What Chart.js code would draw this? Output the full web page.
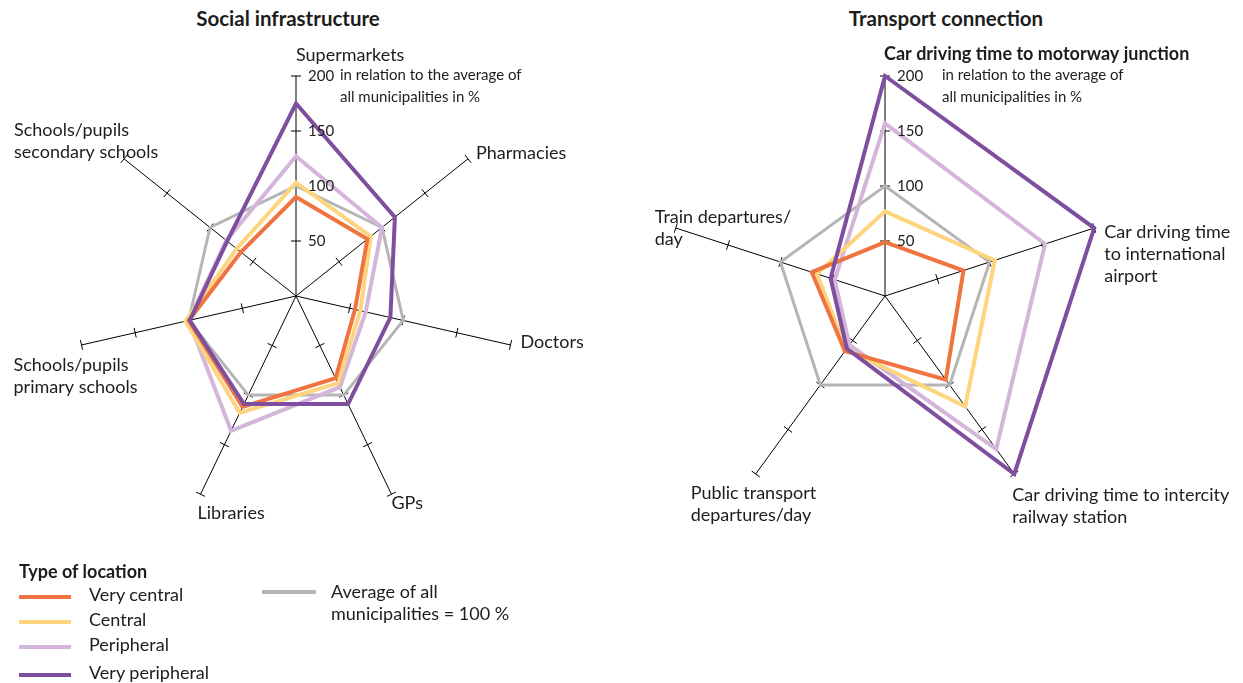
<!DOCTYPE html>
<html>
<head>
<meta charset="utf-8">
<script src="https://cdn.jsdelivr.net/npm/chart.js@4.4.1/dist/chart.umd.min.js"></script>
<style>
  body { margin: 0; background: #fff; width: 1243px; height: 683px; position: relative; overflow: hidden;
         font-family: Lato, "Open Sans", sans-serif; color: #1d1d1b; }
  canvas { position: absolute; top: 0; }
  #left { left: 0; }
  #right { left: 620px; }
  .title { position: absolute; top: 6px; font-weight: bold; font-size: 20.5px; text-align: center; }
  .legend { position: absolute; font-size: 18px; line-height: 1; }
  .swatch { position: absolute; height: 4px; }
</style>
</head>
<body>
<div class="title" style="left:138px;width:300px;">Social infrastructure</div>
<div class="title" style="left:796px;width:300px;">Transport connection</div>
<canvas id="left" width="620" height="683"></canvas>
<canvas id="right" width="623" height="683"></canvas>
<div id="legend"></div>
<script>
// categories
const socialLabels = [['Supermarkets'], ['Pharmacies'], ['Doctors'], ['GPs'], ['Libraries'],
  ['Schools/pupils', 'primary schools'], ['Schools/pupils', 'secondary schools']];
const transportLabels = [['Car driving time to motorway junction'], ['Car driving time', 'to international', 'airport'],
  ['Car driving time to intercity', 'railway station'], ['Public transport', 'departures/day'], ['Train departures/', 'day']];

const tickValues = [50, 100, 150, 200];
const seriesNames = ['Very central', 'Central', 'Peripheral', 'Very peripheral'];
const averageName = ['Average of all', 'municipalities = 100 %'];

// values in % of average
const socialVeryCentral = [90, 83, 55, 83, 112, 100, 64];
const socialCentral = [103, 87, 60, 88, 118, 103, 69];
const socialPeripheral = [127, 100, 65, 92, 136, 100, 81];
const socialVeryPeripheral = [175, 115, 88, 109, 109, 99, 80];
const socialAverage = [100, 100, 100, 100, 100, 100, 100];

const transportVeryCentral = [49, 75, 94, 62, 70];
const transportCentral = [77, 105, 124, 60, 65];
const transportPeripheral = [157, 153, 172, 55, 48];
const transportVeryPeripheral = [200, 200, 200, 59, 52];
const transportAverage = [100, 100, 100, 100, 100];

const colors = { veryCentral: '#ef7440', central: '#fed47e', peripheral: '#d5b6db', veryPeripheral: '#7d4f9e', average: '#b5b5b5' };

function makeDatasets(vc, c, p, vp, avg) {
  const base = { fill: false, tension: 0, pointRadius: 0, borderJoinStyle: 'miter' };
  return [
    Object.assign({ label: 'Very peripheral', data: vp, borderColor: colors.veryPeripheral, borderWidth: 4 }, base),
    Object.assign({ label: 'Very central', data: vc, borderColor: colors.veryCentral, borderWidth: 4 }, base),
    Object.assign({ label: 'Central', data: c, borderColor: colors.central, borderWidth: 4 }, base),
    Object.assign({ label: 'Peripheral', data: p, borderColor: colors.peripheral, borderWidth: 4 }, base),
    Object.assign({ label: 'Average', data: avg, borderColor: colors.average, borderWidth: 3 }, base)
  ];
}

// small cross ticks on every axis
const axisTicks = {
  id: 'axisTicks',
  beforeDatasetsDraw(chart) {
    const s = chart.scales.r, ctx = chart.ctx;
    ctx.save();
    ctx.strokeStyle = '#000';
    ctx.lineWidth = 1;
    chart.data.labels.forEach((l, i) => {
      const o = s.getPointPositionForValue(i, 0);
      tickValues.forEach(v => {
        const p = s.getPointPositionForValue(i, v);
        const len = Math.hypot(p.x - o.x, p.y - o.y);
        const nx = -(p.y - o.y) / len * 5, ny = (p.x - o.x) / len * 5;
        ctx.beginPath();
        ctx.moveTo(p.x - nx, p.y - ny);
        ctx.lineTo(p.x + nx, p.y + ny);
        ctx.stroke();
      });
    });
    ctx.restore();
  },
  afterDraw(chart, args, opts) {
    const s = chart.scales.r, ctx = chart.ctx;
    ctx.save();
    ctx.fillStyle = '#1d1d1b';
    ctx.textBaseline = 'middle';
    ctx.textAlign = 'left';
    ctx.font = '15px Lato, "Open Sans", sans-serif';
    tickValues.forEach(v => {
      const p = s.getPointPositionForValue(0, v);
      ctx.fillText(String(v), p.x + 12, p.y);
    });
    ctx.font = '15px Lato, "Open Sans", sans-serif';
    const top = s.getPointPositionForValue(0, 200);
    ctx.fillText('in relation to the average of', top.x + opts.noteDx, top.y - 1);
    ctx.fillText('all municipalities in %', top.x + opts.noteDx, top.y + 21);
    chart.data.labels.forEach((lines, i) => {
      const p = s.getPointPositionForValue(i, 200);
      const pl = opts.placement[i];
      ctx.font = (pl.bold ? 'bold ' : '') + '18px Lato, "Open Sans", sans-serif';
      lines.forEach((t, k) => ctx.fillText(t, p.x + pl.dx, p.y + pl.dy + k * 22));
    });
    ctx.restore();
  }
};

function radar(id, labels, datasets, pad, placement, noteDx) {
  return new Chart(document.getElementById(id), {
    type: 'radar',
    data: { labels: labels, datasets: datasets },
    options: {
      responsive: false,
      animation: false,
      layout: { padding: pad },
      plugins: { legend: { display: false }, tooltip: { enabled: false }, axisTicks: { placement: placement, noteDx: noteDx } },
      scales: {
        r: {
          min: 0, max: 200,
          ticks: { display: false, stepSize: 50 },
          grid: { display: false },
          angleLines: { display: true, color: '#000', lineWidth: 1 },
          pointLabels: { display: false }
        }
      }
    },
    plugins: [axisTicks]
  });
}

radar('left', socialLabels,
  makeDatasets(socialVeryCentral, socialCentral, socialPeripheral, socialVeryPeripheral, socialAverage),
  { left: 76, right: 104, top: 76, bottom: 167 },
  [{ dx: 0, dy: -21 }, { dx: 8, dy: -6 }, { dx: 10, dy: -3 }, { dx: 0, dy: 9 }, { dx: -3, dy: 19 },
   { dx: -68, dy: 20 }, { dx: -110, dy: -29 }], 44);

radar('right', transportLabels,
  makeDatasets(transportVeryCentral, transportCentral, transportPeripheral, transportVeryPeripheral, transportAverage),
  { left: 45, right: 138, top: 76, bottom: 167 },
  [{ dx: -1, dy: -22, bold: true }, { dx: 10, dy: 4 }, { dx: -2, dy: 21 }, { dx: -65, dy: 19 }, { dx: -21, dy: -11 }], 57);

// legend
const legend = document.getElementById('legend');
function addText(t, x, y, bold) {
  const d = document.createElement('div');
  d.className = 'legend';
  d.textContent = t;
  d.style.left = x + 'px';
  d.style.top = (y - 9) + 'px';
  if (bold) d.style.fontWeight = 'bold';
  legend.appendChild(d);
}
function addSwatch(c, x, y, w) {
  const d = document.createElement('div');
  d.className = 'swatch';
  d.style.left = x + 'px';
  d.style.top = (y - 2) + 'px';
  d.style.width = w + 'px';
  d.style.background = c;
  legend.appendChild(d);
}
addText('Type of location', 19, 571, true);
const swatchColors = [colors.veryCentral, colors.central, colors.peripheral, colors.veryPeripheral];
const rowY = [594, 619, 644, 672];
seriesNames.forEach((n, i) => {
  addSwatch(swatchColors[i], 19, rowY[i] + 3, 52);
  addText(n, 89, rowY[i]);
});
addSwatch(colors.average, 262, 592, 54);
addText(averageName[0], 331, 591);
addText(averageName[1], 331, 613);
</script>
</body>
</html>
